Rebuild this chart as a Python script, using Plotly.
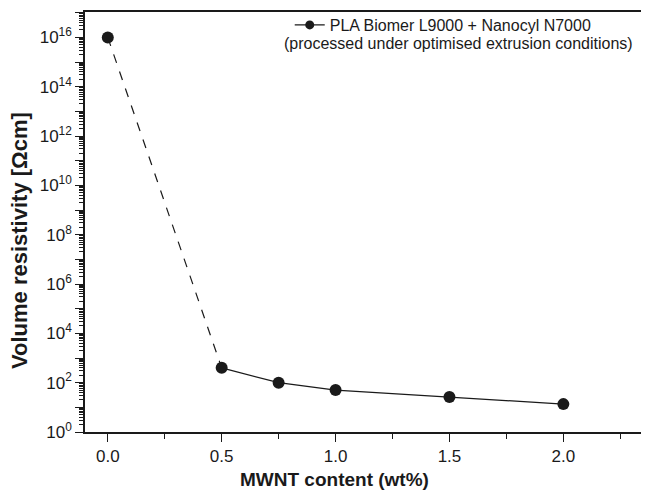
import plotly.graph_objects as go

mwnt_wt = [0.0, 0.5, 0.75, 1.0, 1.5, 2.0]
resistivity = [1e16, 400, 100, 50, 26, 13.5]
series_name = "PLA Biomer L9000 + Nanocyl N7000"
series_note = "(processed under optimised extrusion conditions)"
x_title = "MWNT content (wt%)"
y_title = "Volume resistivity [Ωcm]"
x_ticks = [0.0, 0.5, 1.0, 1.5, 2.0]
x_ticklabels = ["0.0", "0.5", "1.0", "1.5", "2.0"]
y_decades = list(range(0, 18))

FONT = "Liberation Sans, Arial, sans-serif"
INK = "#1a1a1a"

fig = go.Figure()
# dashed segment (percolation jump)
fig.add_trace(go.Scatter(
    x=mwnt_wt[:2], y=resistivity[:2], mode="lines",
    line=dict(color=INK, width=1.2, dash="dash"), showlegend=False, hoverinfo="skip"))
# solid segment with markers
fig.add_trace(go.Scatter(
    x=mwnt_wt[1:], y=resistivity[1:], mode="lines+markers",
    line=dict(color=INK, width=1.2), marker=dict(color=INK, size=12),
    name=series_name, showlegend=False))
fig.add_trace(go.Scatter(
    x=mwnt_wt[:1], y=resistivity[:1], mode="markers",
    marker=dict(color=INK, size=12), showlegend=False))
# legend entry (smaller symbol as in the reference legend)
fig.add_trace(go.Scatter(
    x=[None], y=[None], mode="lines+markers",
    line=dict(color=INK, width=1.2), marker=dict(color=INK, size=9),
    name=series_name, showlegend=True))

ytickvals = [10.0 ** d for d in y_decades]
yticktext = [f"10<sup>{d}</sup>" if d % 2 == 0 else "" for d in y_decades]
yminor = [k * 10.0 ** d for d in y_decades[:-1] for k in range(2, 10)]

fig.update_layout(
    width=641, height=488,
    margin=dict(l=77, r=0, t=4, b=64),
    paper_bgcolor="white", plot_bgcolor="white",
    font=dict(family=FONT, color=INK, size=17),
    legend=dict(x=0.363, y=1.0095, xanchor="left", yanchor="top",
                bgcolor="rgba(0,0,0,0)", font=dict(size=16, family=FONT, color=INK),
                itemwidth=30, tracegroupgap=0),
    xaxis=dict(
        range=[-0.1, 2.376], tickvals=x_ticks, ticktext=x_ticklabels,
        ticks="outside", ticklen=8, tickwidth=1.2, tickcolor=INK,
        showline=True, linecolor=INK, linewidth=1.5, mirror=True,
        showgrid=False, zeroline=False, automargin=False,
        tickfont=dict(size=17),
        minor=dict(dtick=0.25, tick0=0, ticks="outside", ticklen=5, tickcolor=INK, tickwidth=1),
    ),
    yaxis=dict(
        type="log", range=[0, 17.03],
        tickvals=ytickvals, ticktext=yticktext,
        ticks="outside", ticklen=8, tickwidth=1.2, tickcolor=INK,
        showline=True, linecolor=INK, linewidth=1.5,
        showgrid=False, zeroline=False, automargin=False,
        tickfont=dict(size=17),
        minor=dict(tickvals=yminor, ticks="outside", ticklen=4, tickcolor=INK, tickwidth=1),
    ),
    annotations=[
        dict(text=series_note, xref="paper", yref="paper", x=0.663, y=0.926,
             xanchor="center", yanchor="middle", showarrow=False,
             font=dict(size=16, family=FONT, color=INK)),
        dict(text=f"<b>{x_title}</b>", xref="paper", yref="paper", x=0.443, y=-0.114,
             xanchor="center", yanchor="middle", showarrow=False,
             font=dict(size=19, family=FONT, color=INK)),
        dict(text=f"<b>{y_title}</b>", xref="paper", yref="paper", x=-0.115, y=0.455,
             xanchor="center", yanchor="middle", showarrow=False, textangle=-90,
             font=dict(size=22, family=FONT, color=INK)),
    ],
)

fig.write_html("out.html")
